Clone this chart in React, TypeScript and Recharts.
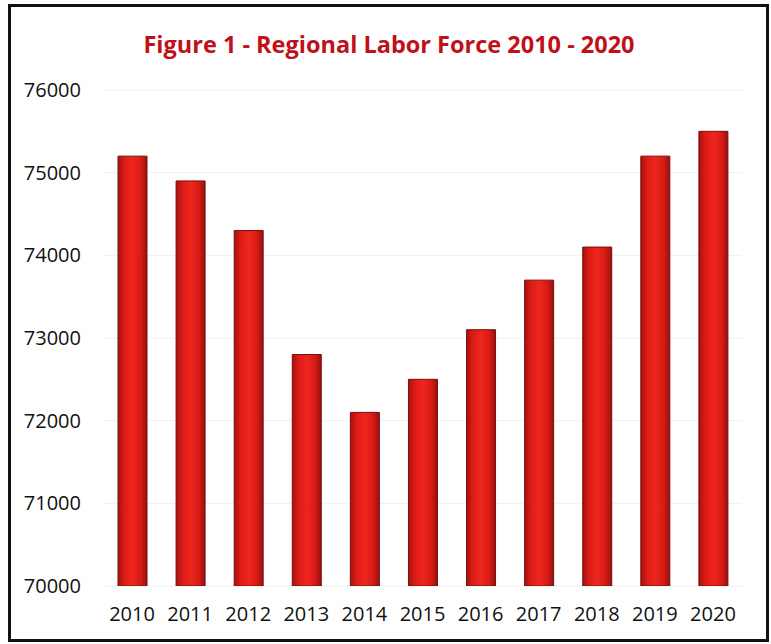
import React from 'react';
import { BarChart, Bar, XAxis, YAxis, CartesianGrid } from 'recharts';

const years = ['2010', '2011', '2012', '2013', '2014', '2015', '2016', '2017', '2018', '2019', '2020'];
const laborForce = [75200, 74900, 74300, 72800, 72100, 72500, 73100, 73700, 74100, 75200, 75500];
const yTicks = [70000, 71000, 72000, 73000, 74000, 75000, 76000];

const data = years.map((year, i) => ({ year, value: laborForce[i] }));

const font = '"Open Sans", "DejaVu Sans", sans-serif';

const App: React.FC = () => {
  return (
    <div style={{ position: 'absolute', left: 0, top: 0, width: 771, height: 644, background: '#fff', fontFamily: font }}>
      <div
        style={{
          position: 'absolute', left: 8, top: 4, width: 761, height: 638,
          border: '3px solid #111', boxSizing: 'border-box',
        }}
      />
      <div
        style={{
          position: 'absolute', left: 0, top: 28, width: 778, textAlign: 'center',
          color: '#c0101a', fontWeight: 700, fontSize: 23.5, lineHeight: '32px',
        }}
      >
        Figure 1 - Regional Labor Force 2010 - 2020
      </div>
      <BarChart
        width={771}
        height={644}
        data={data}
        margin={{ top: 90, right: 29, bottom: 0, left: 0 }}
        barCategoryGap={0}
      >
        <defs>
          <linearGradient id="barFill" x1="0" y1="0" x2="1" y2="0">
            <stop offset="0%" stopColor="#a41210" />
            <stop offset="22%" stopColor="#dc1c16" />
            <stop offset="50%" stopColor="#ee261d" />
            <stop offset="78%" stopColor="#d81b15" />
            <stop offset="100%" stopColor="#981010" />
          </linearGradient>
        </defs>
        <CartesianGrid vertical={false} stroke="#f0f0f0" />
        <XAxis
          dataKey="year"
          height={58}
          axisLine={false}
          tickLine={false}
          tickSize={0}
          tickMargin={21}
          tick={{ fill: '#111', fontSize: 20, fontFamily: font }}
          interval={0}
        />
        <YAxis
          width={103}
          domain={[70000, 76000]}
          ticks={yTicks}
          axisLine={false}
          tickLine={false}
          tickSize={0}
          tickMargin={22}
          tick={{ fill: '#111', fontSize: 20, fontFamily: font }}
          allowDataOverflow
        />
        <Bar dataKey="value" fill="url(#barFill)" stroke="#7a0c0c" strokeWidth={1} barSize={29} isAnimationActive={false} />
      </BarChart>
    </div>
  );
};

export default App;
